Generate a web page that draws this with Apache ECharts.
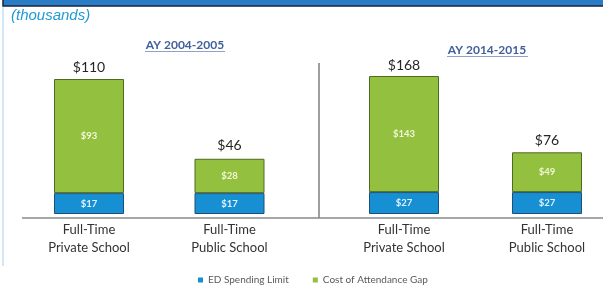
<!DOCTYPE html>
<html>
<head>
<meta charset="utf-8">
<script src="https://cdn.jsdelivr.net/npm/echarts@6/dist/echarts.min.js"></script>
<style>
  html, body { margin: 0; padding: 0; background: #fff; }
  #chart { width: 603px; height: 287px; }
</style>
</head>
<body>
<div id="chart"></div>
<script>
// school types
var categories = ['Full-Time\nPrivate School', 'Full-Time\nPublic School'];
// AY 2004-2005 (thousands of $)
var edLimit2004 = [17, 17];
var gap2004 = [93, 28];
var total2004 = [110, 46];
// AY 2014-2015
var edLimit2014 = [27, 27];
var gap2014 = [143, 49];
var total2014 = [168, 76];

var blue = '#1790d3';
var green = '#93c03f';
var font = 'Lato';

var chart = echarts.init(document.getElementById('chart'));

function money(v) { return '$' + v; }

function segment(name, data, xi, color, border, labelColor) {
    return {
        name: name,
        type: 'bar',
        stack: 'g' + xi,
        xAxisIndex: xi,
        yAxisIndex: xi,
        data: data,
        barWidth: 70,
        clip: false,
        itemStyle: { color: color, borderColor: border, borderWidth: 1 },
        label: {
            show: true,
            position: 'inside',
            formatter: function (p) { return money(p.value); },
            color: labelColor,
            fontFamily: font,
            fontWeight: 'bold',
            fontSize: 9.5
        }
    };
}

function totals(data, xi) {
    return {
        type: 'bar',
        xAxisIndex: xi,
        yAxisIndex: xi,
        data: data,
        barWidth: 70,
        barGap: '-100%',
        clip: false,
        z: 1,
        silent: true,
        itemStyle: { color: 'rgba(0,0,0,0)' },
        label: {
            show: true,
            position: 'top',
            distance: 5,
            formatter: function (p) { return money(p.value); },
            color: '#262626',
            fontFamily: font,
            fontSize: 14
        }
    };
}

function catAxis(gi) {
    return {
        type: 'category',
        gridIndex: gi,
        data: categories,
        boundaryGap: false,
        axisLine: { show: false },
        axisTick: { show: false },
        axisLabel: {
            margin: 7,
            color: '#333333',
            fontFamily: font,
            fontSize: 13,
            lineHeight: 18
        }
    };
}

function valAxis(gi, max) {
    return { type: 'value', gridIndex: gi, min: 0, max: max, show: false };
}

var option = {
    animation: false,
    backgroundColor: '#fff',
    grid: [
        { left: 89, right: 373.5, top: 79, bottom: 73 },
        { left: 404, right: 56, top: 76, bottom: 73 }
    ],
    xAxis: [catAxis(0), catAxis(1)],
    yAxis: [valAxis(0, 110), valAxis(1, 170)],
    legend: {
        data: ['ED Spending Limit', 'Cost of Attendance Gap'],
        left: 193,
        top: 270,
        icon: 'rect',
        itemWidth: 5,
        itemHeight: 5,
        itemGap: 24,
        itemStyle: { borderWidth: 0 },
        textStyle: { color: '#595959', fontFamily: font, fontSize: 10 }
    },
    graphic: [
        // top banner
        { type: 'rect', shape: { x: 3, y: -3, width: 610, height: 9 },
          style: { fill: '#2b7cc6', stroke: '#17253f', lineWidth: 1.5 } },
        { type: 'line', shape: { x1: 3, y1: 7, x2: 3, y2: 266 },
          style: { stroke: '#d3e8f6', lineWidth: 2 } },
        { type: 'text', left: 11, top: 8,
          style: { text: '(thousands)', fill: '#1f9ad6', font: 'italic 15px "Liberation Sans"' } },
        // panel titles
        { type: 'text', x: 185, y: 45,
          style: { text: 'AY 2004-2005', fill: '#41609b', font: 'bold 12px Lato', align: 'center', verticalAlign: 'middle' } },
        { type: 'line', shape: { x1: 145, y1: 51.5, x2: 225, y2: 51.5 },
          style: { stroke: '#8fa3c8', lineWidth: 1 } },
        { type: 'text', x: 487, y: 50,
          style: { text: 'AY 2014-2015', fill: '#41609b', font: 'bold 12px Lato', align: 'center', verticalAlign: 'middle' } },
        { type: 'line', shape: { x1: 447, y1: 56.5, x2: 528, y2: 56.5 },
          style: { stroke: '#8fa3c8', lineWidth: 1 } },
        // divider and baseline
        { type: 'line', shape: { x1: 319, y1: 63, x2: 319, y2: 218 },
          style: { stroke: '#7f7f7f', lineWidth: 1.5 } },
        { type: 'line', shape: { x1: 22, y1: 218, x2: 603, y2: 218 },
          style: { stroke: '#8a8a8a', lineWidth: 1.5 } }
    ],
    series: [
        totals(total2004, 0),
        segment('ED Spending Limit', edLimit2004, 0, blue, '#1f4e79', '#e3f2ff'),
        segment('Cost of Attendance Gap', gap2004, 0, green, '#4f6b22', '#f3f7d8'),
        totals(total2014, 1),
        segment('ED Spending Limit', edLimit2014, 1, blue, '#1f4e79', '#e3f2ff'),
        segment('Cost of Attendance Gap', gap2014, 1, green, '#4f6b22', '#f3f7d8')
    ]
};

chart.setOption(option);
</script>
</body>
</html>
